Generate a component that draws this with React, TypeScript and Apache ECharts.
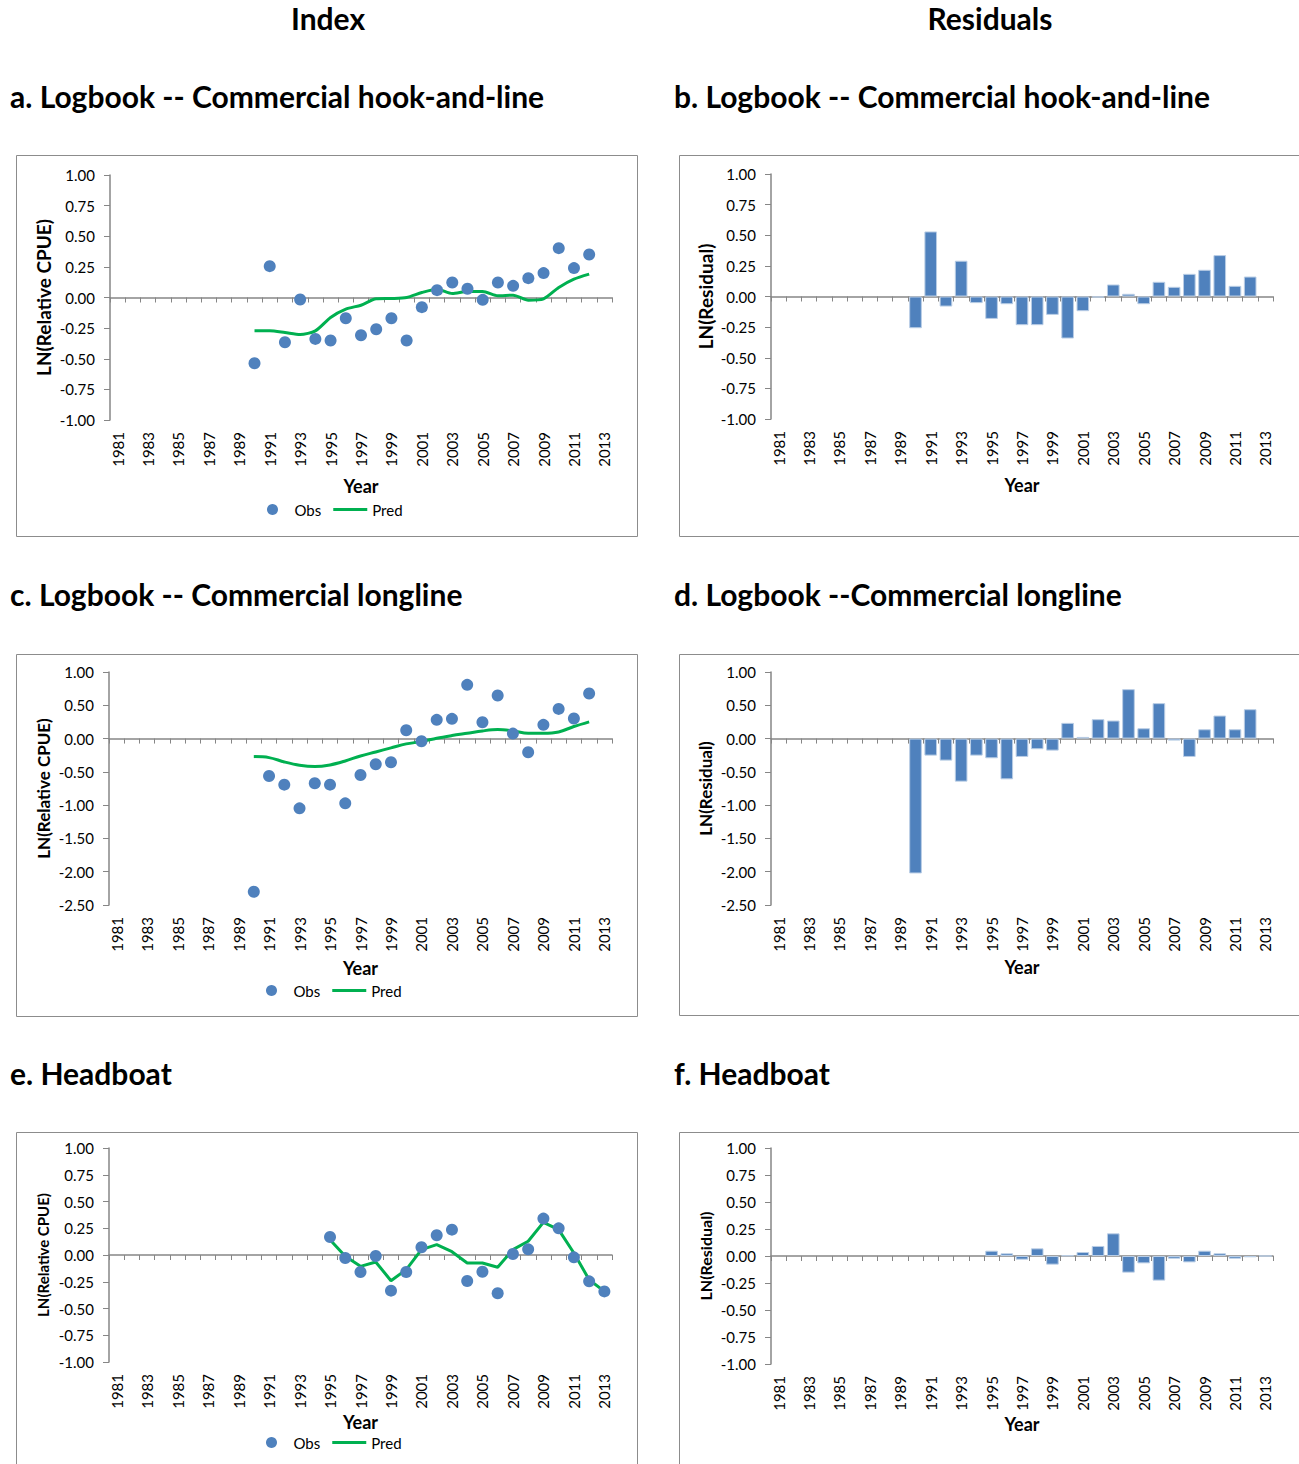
import React, { useEffect, useRef } from "react";
import * as echarts from "echarts";

const YEARS = [
  "1981", "1982", "1983", "1984", "1985", "1986", "1987", "1988", "1989", "1990",
  "1991", "1992", "1993", "1994", "1995", "1996", "1997", "1998", "1999", "2000",
  "2001", "2002", "2003", "2004", "2005", "2006", "2007", "2008", "2009", "2010",
  "2011", "2012", "2013",
];

// a. Logbook -- Commercial hook-and-line (1990-2012)
const HL_START = 1990;
const hlObs = [-0.537, 0.256, -0.365, -0.016, -0.338, -0.351, -0.169, -0.308, -0.259, -0.169, -0.351, -0.079, 0.060, 0.123, 0.071, -0.019, 0.123, 0.095, 0.158, 0.199, 0.403, 0.240, 0.351];
const hlPred = [-0.272, -0.272, -0.286, -0.302, -0.272, -0.163, -0.095, -0.063, -0.011, -0.008, 0.0, 0.041, 0.068, 0.033, 0.049, 0.049, 0.014, 0.019, -0.022, -0.011, 0.082, 0.150, 0.191];
// b. residuals
const hlResid = [-0.259, 0.531, -0.082, 0.292, -0.054, -0.183, -0.063, -0.234, -0.234, -0.150, -0.343, -0.120, -0.008, 0.098, 0.022, -0.063, 0.120, 0.079, 0.185, 0.218, 0.338, 0.087, 0.163];

// c. Logbook -- Commercial longline (1990-2012)
const LL_START = 1990;
const llObs = [-2.302, -0.562, -0.692, -1.048, -0.672, -0.692, -0.973, -0.547, -0.386, -0.356, 0.125, -0.040, 0.281, 0.296, 0.807, 0.246, 0.647, 0.075, -0.206, 0.206, 0.446, 0.301, 0.677];
const llPred = [-0.271, -0.286, -0.351, -0.401, -0.421, -0.396, -0.336, -0.261, -0.201, -0.140, -0.080, -0.045, 0.005, 0.045, 0.080, 0.115, 0.135, 0.115, 0.080, 0.080, 0.100, 0.181, 0.251];
// d. residuals
const llResid = [-2.026, -0.256, -0.331, -0.647, -0.256, -0.296, -0.612, -0.276, -0.160, -0.181, 0.236, 0.025, 0.291, 0.271, 0.742, 0.155, 0.532, -0.030, -0.276, 0.140, 0.346, 0.140, 0.441];

// e. Headboat (1995-2013)
const HB_START = 1995;
const hbObs = [0.168, -0.028, -0.159, -0.009, -0.333, -0.159, 0.072, 0.184, 0.237, -0.243, -0.156, -0.358, 0.009, 0.053, 0.340, 0.249, -0.022, -0.246, -0.340];
const hbPred = [0.143, -0.012, -0.106, -0.065, -0.240, -0.137, 0.050, 0.097, 0.031, -0.075, -0.075, -0.115, 0.050, 0.128, 0.305, 0.237, 0.019, -0.231, -0.340];
// f. residuals
const hbResid = [0.049, 0.025, -0.034, 0.071, -0.080, 0.005, 0.037, 0.093, 0.210, -0.154, -0.068, -0.228, -0.025, -0.059, 0.049, 0.025, -0.025, -0.012, 0.0];

const HEADERS = ["Index", "Residuals"];
const TITLES = [
  "a. Logbook -- Commercial hook-and-line",
  "b. Logbook -- Commercial hook-and-line",
  "c. Logbook -- Commercial longline",
  "d. Logbook --Commercial longline",
  "e. Headboat",
  "f. Headboat",
];

const FONT = "Lato, 'Open Sans', sans-serif";
const BLUE = "#4F81BD";
const GREEN = "#00B050";
const AXIS = "#868686";

function byYear(start: number, vals: number[]) {
  return YEARS.map((y) => {
    const i = Number(y) - start;
    return i >= 0 && i < vals.length ? vals[i] : null;
  });
}

type Panel = {
  grid: { left: number; top: number; width: number; height: number };
  min: number;
  max: number;
  interval: number;
  yName: string;
  yNameSize: number;
  yNameGap: number;
  xNameGap: number;
  kind: "index" | "resid";
  obs?: (number | null)[];
  pred?: (number | null)[];
  resid?: (number | null)[];
  smooth?: number | boolean;
  legend?: { left: number; top: number };
};

const panels: Panel[] = [
  {
    grid: { left: 110, top: 175, width: 502, height: 245 },
    min: -1, max: 1, interval: 0.25,
    yName: "LN(Relative CPUE)", yNameSize: 19, yNameGap: 57, xNameGap: 57,
    kind: "index", obs: byYear(HL_START, hlObs), pred: byYear(HL_START, hlPred), smooth: 0.25,
    legend: { left: 262, top: 497 },
  },
  {
    grid: { left: 771, top: 174, width: 502, height: 245 },
    min: -1, max: 1, interval: 0.25,
    yName: "LN(Residual)", yNameSize: 19, yNameGap: 56, xNameGap: 57,
    kind: "resid", resid: byYear(HL_START, hlResid),
  },
  {
    grid: { left: 109, top: 672, width: 503, height: 233 },
    min: -2.5, max: 1, interval: 0.5,
    yName: "LN(Relative CPUE)", yNameSize: 17, yNameGap: 57, xNameGap: 54,
    kind: "index", obs: byYear(LL_START, llObs), pred: byYear(LL_START, llPred), smooth: 0.35,
    legend: { left: 261, top: 978 },
  },
  {
    grid: { left: 771, top: 672, width: 502, height: 233 },
    min: -2.5, max: 1, interval: 0.5,
    yName: "LN(Residual)", yNameSize: 17, yNameGap: 57, xNameGap: 53,
    kind: "resid", resid: byYear(LL_START, llResid),
  },
  {
    grid: { left: 109, top: 1148, width: 503, height: 214 },
    min: -1, max: 1, interval: 0.25,
    yName: "LN(Relative CPUE)", yNameSize: 15, yNameGap: 59, xNameGap: 50,
    kind: "index", obs: byYear(HB_START, hbObs), pred: byYear(HB_START, hbPred), smooth: false,
    legend: { left: 261, top: 1430 },
  },
  {
    grid: { left: 771, top: 1148, width: 502, height: 216 },
    min: -1, max: 1, interval: 0.25,
    yName: "LN(Residual)", yNameSize: 16, yNameGap: 58, xNameGap: 45,
    kind: "resid", resid: byYear(HB_START, hbResid),
  },
];

const boxes = [
  { x: 16, y: 155, w: 621, h: 381 },
  { x: 679, y: 155, w: 640, h: 381 },
  { x: 16, y: 654, w: 621, h: 362 },
  { x: 679, y: 654, w: 640, h: 361 },
  { x: 16, y: 1132, w: 621, h: 360 },
  { x: 679, y: 1132, w: 640, h: 360 },
];
const titlePos = [
  { x: 10, y: 96 }, { x: 674, y: 96 },
  { x: 10, y: 594 }, { x: 674, y: 594 },
  { x: 10, y: 1073 }, { x: 674, y: 1073 },
];
const headerPos = [{ x: 328, y: 18 }, { x: 990, y: 18 }];

function buildOption() {
  const grid: any[] = [];
  const xAxis: any[] = [];
  const yAxis: any[] = [];
  const series: any[] = [];
  const legend: any[] = [];

  panels.forEach((p, i) => {
    grid.push({ ...p.grid, containLabel: false });
    // zero-line axis with ticks
    xAxis.push({
      type: "category",
      gridIndex: i,
      data: YEARS,
      position: "bottom",
      boundaryGap: true,
      axisLine: { show: true, onZero: true, lineStyle: { color: AXIS, width: 1.5 } },
      axisTick: { show: true, interval: 0, length: 5, inside: false, lineStyle: { color: AXIS, width: 1 } },
      axisLabel: { show: false },
      splitLine: { show: false },
    });
    // bottom label axis
    xAxis.push({
      type: "category",
      gridIndex: i,
      data: YEARS,
      position: "bottom",
      boundaryGap: true,
      axisLine: { show: false, onZero: false },
      axisTick: { show: false },
      axisLabel: {
        show: true,
        interval: 1,
        rotate: 90,
        margin: 12,
        color: "#000",
        fontFamily: FONT,
        fontSize: 15,
      },
      splitLine: { show: false },
      name: "Year",
      nameLocation: "middle",
      nameGap: p.xNameGap,
      nameTextStyle: { fontFamily: FONT, fontWeight: "bold", fontSize: 18, color: "#000" },
    });
    yAxis.push({
      type: "value",
      gridIndex: i,
      min: p.min,
      max: p.max,
      interval: p.interval,
      axisLine: { show: true, lineStyle: { color: AXIS, width: 1.5 } },
      axisTick: { show: true, length: 6, inside: false, lineStyle: { color: AXIS, width: 1 } },
      axisLabel: {
        margin: 15,
        color: "#000",
        fontFamily: FONT,
        fontSize: 15,
        formatter: (v: number) => v.toFixed(2),
      },
      splitLine: { show: false },
      name: p.yName,
      nameLocation: "middle",
      nameRotate: 90,
      nameGap: p.yNameGap,
      nameTextStyle: { fontFamily: FONT, fontWeight: "bold", fontSize: p.yNameSize, color: "#000" },
    });
    if (p.kind === "index") {
      series.push({
        name: "Obs",
        type: "scatter",
        xAxisIndex: 2 * i,
        yAxisIndex: i,
        data: p.obs,
        symbol: "circle",
        symbolSize: 12,
        itemStyle: { color: BLUE, opacity: 1 },
        z: 3,
      });
      series.push({
        name: "Pred",
        type: "line",
        xAxisIndex: 2 * i,
        yAxisIndex: i,
        data: p.pred,
        symbol: "none",
        showSymbol: false,
        smooth: p.smooth,
        lineStyle: { color: GREEN, width: 3 },
        itemStyle: { color: GREEN },
        z: 2,
      });
      legend.push({
        left: p.legend!.left,
        top: p.legend!.top,
        orient: "horizontal",
        itemWidth: 34,
        itemHeight: 11,
        itemGap: 12,
        data: [
          { name: "Obs", icon: "circle", itemStyle: { color: BLUE, opacity: 1 } },
          { name: "Pred", icon: "path://M0,0 L34,0 L34,3 L0,3 Z" },
        ],
        textStyle: { fontFamily: FONT, fontSize: 15, color: "#000" },
        selectedMode: false,
      });
    } else {
      series.push({
        name: "Residual",
        type: "bar",
        xAxisIndex: 2 * i,
        yAxisIndex: i,
        data: p.resid,
        barCategoryGap: "17%",
        itemStyle: { color: BLUE, borderColor: "#B9CDE5", borderWidth: 1 },
      });
    }
  });

  const graphic: any[] = [];
  boxes.forEach((b) => {
    graphic.push({
      type: "rect",
      shape: { x: b.x + 0.5, y: b.y + 0.5, width: b.w, height: b.h },
      style: { fill: "none", stroke: "#8C8C8C", lineWidth: 1 },
      silent: true,
      z: -1,
    });
  });
  HEADERS.forEach((h, i) => {
    graphic.push({
      type: "text",
      x: headerPos[i].x,
      y: headerPos[i].y,
      style: {
        text: h,
        fontFamily: FONT,
        fontWeight: "bold",
        fontSize: 30,
        fill: "#000",
        textAlign: "center",
        textVerticalAlign: "middle",
      },
    });
  });
  TITLES.forEach((t, i) => {
    graphic.push({
      type: "text",
      x: titlePos[i].x,
      y: titlePos[i].y,
      style: {
        text: t,
        fontFamily: FONT,
        fontWeight: "bold",
        fontSize: 30,
        fill: "#000",
        textAlign: "left",
        textVerticalAlign: "middle",
      },
    });
  });

  return {
    animation: false,
    backgroundColor: "#fff",
    grid,
    xAxis,
    yAxis,
    series,
    legend,
    graphic,
  };
}

export default function App() {
  const ref = useRef<HTMLDivElement>(null);
  useEffect(() => {
    if (!ref.current) return;
    const chart = echarts.init(ref.current, undefined, { renderer: "svg" });
    chart.setOption(buildOption());
    return () => chart.dispose();
  }, []);
  return (
    <div
      ref={ref}
      style={{ position: "absolute", left: 0, top: 0, width: 1299, height: 1464, background: "#fff" }}
    />
  );
}
